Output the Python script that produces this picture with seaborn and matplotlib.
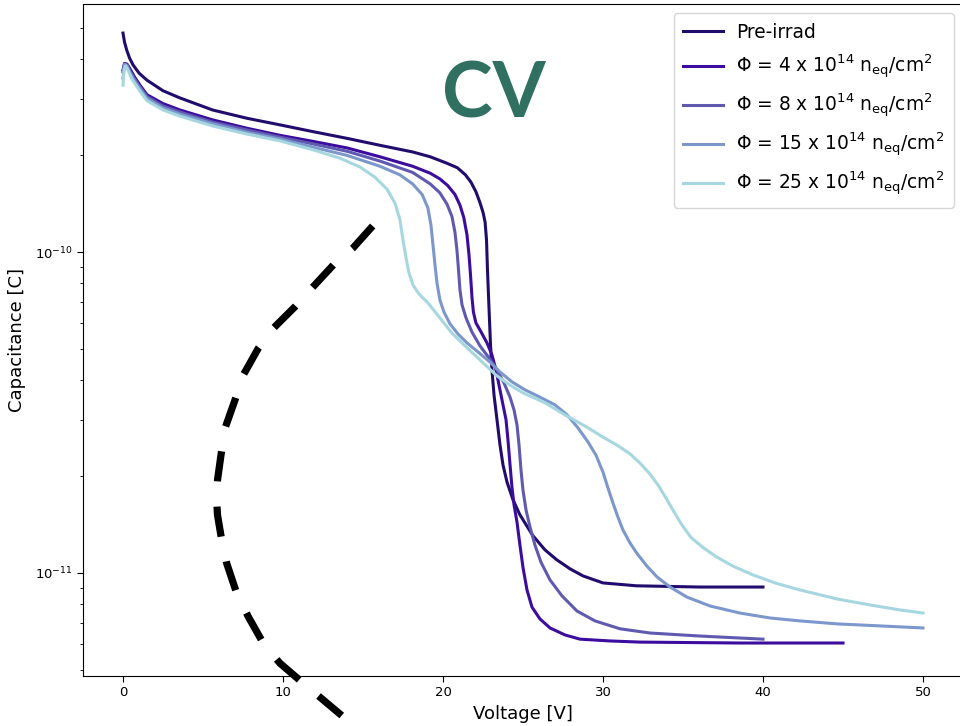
import matplotlib
matplotlib.use("Agg")
import matplotlib.pyplot as plt
import seaborn as sns
import pandas as pd
from matplotlib.lines import Line2D
from matplotlib.ticker import NullFormatter, FixedLocator

# ---------------- data ----------------
labels = ["Pre-irrad",
          r"$\Phi$ = 4 x 10$^{14}$ n$_{\mathrm{eq}}$/cm$^{2}$",
          r"$\Phi$ = 8 x 10$^{14}$ n$_{\mathrm{eq}}$/cm$^{2}$",
          r"$\Phi$ = 15 x 10$^{14}$ n$_{\mathrm{eq}}$/cm$^{2}$",
          r"$\Phi$ = 25 x 10$^{14}$ n$_{\mathrm{eq}}$/cm$^{2}$"]
colors = ["#210c6e", "#3b0c9e", "#5f5ab0", "#7c97cc", "#a6d7e0"]

x_ticks = [0, 10, 20, 30, 40, 50]
y_major = [1e-11, 1e-10]
y_minor = [5e-12, 6e-12, 7e-12, 8e-12, 9e-12, 2e-11, 3e-11, 4e-11, 5e-11, 6e-11, 7e-11,
           8e-11, 9e-11, 2e-10, 3e-10, 4e-10, 5e-10]

pre_v = [0, 0.094, 0.23, 0.41, 0.625, 1.0, 1.5, 2.5, 3.56, 5.6, 7.75, 9.8, 11.9, 14.0, 16.06,
         18.1, 19.2, 20.25, 20.9, 21.4, 21.75, 22.06, 22.3, 22.5, 22.63, 22.72, 22.78, 22.88,
         22.97, 23.06, 23.19, 23.375, 23.56, 23.75, 24.0, 24.375, 24.8, 25.6, 26.375, 27.1,
         27.94, 28.75, 30.0, 32.1, 36.06, 40.0]
pre_c = [4.81e-10, 4.51e-10, 4.26e-10, 4.02e-10, 3.83e-10, 3.61e-10, 3.43e-10, 3.18e-10,
         3.02e-10, 2.77e-10, 2.61e-10, 2.49e-10, 2.37e-10, 2.26e-10, 2.15e-10, 2.05e-10,
         1.98e-10, 1.89e-10, 1.83e-10, 1.74e-10, 1.65e-10, 1.54e-10, 1.43e-10, 1.33e-10,
         1.24e-10, 1.09e-10, 8.79e-11, 6.60e-11, 5.13e-11, 4.29e-11, 3.58e-11, 3.00e-11,
         2.51e-11, 2.17e-11, 1.92e-11, 1.69e-11, 1.52e-11, 1.31e-11, 1.18e-11, 1.10e-11,
         1.03e-11, 9.79e-12, 9.31e-12, 9.12e-12, 9.04e-12, 9.04e-12]

phi4_v = [0, 0.094, 0.25, 0.44, 0.69, 1.06, 1.5, 2.5, 3.56, 5.6, 7.75, 9.8, 11.9, 14.0, 16.06,
          18.1, 19.2, 19.8, 20.3, 20.75, 21.06, 21.3, 21.5, 21.625, 21.72, 21.81, 21.9, 22.06,
          22.375, 22.75, 23.06, 23.31, 23.56, 23.75, 23.94, 24.06, 24.19, 24.31, 24.44, 24.625,
          24.81, 25.0, 25.25, 25.56, 26.06, 26.69, 27.625, 28.56, 30.44, 32.31, 38.56, 45.0]
phi4_c = [3.69e-10, 3.87e-10, 3.85e-10, 3.72e-10, 3.53e-10, 3.31e-10, 3.09e-10, 2.90e-10,
          2.77e-10, 2.58e-10, 2.43e-10, 2.31e-10, 2.21e-10, 2.11e-10, 1.98e-10, 1.85e-10,
          1.76e-10, 1.69e-10, 1.61e-10, 1.51e-10, 1.40e-10, 1.28e-10, 1.13e-10, 9.79e-11,
          8.48e-11, 7.24e-11, 6.50e-11, 6.01e-11, 5.64e-11, 5.21e-11, 4.78e-11, 4.29e-11,
          3.72e-11, 3.34e-11, 3.00e-11, 2.60e-11, 2.17e-11, 1.85e-11, 1.63e-11, 1.44e-11,
          1.22e-11, 1.04e-11, 8.85e-12, 7.83e-12, 7.19e-12, 6.74e-12, 6.41e-12, 6.22e-12,
          6.14e-12, 6.09e-12, 6.05e-12, 6.05e-12]

phi8_v = [0, 0.094, 0.25, 0.44, 0.69, 1.06, 1.5, 2.5, 3.56, 5.6, 7.75, 9.8, 11.9, 14.0, 16.06,
          18.1, 19.2, 19.8, 20.25, 20.56, 20.75, 20.875, 20.97, 21.06, 21.19, 21.44, 21.81,
          22.31, 22.875, 23.375, 23.81, 24.19, 24.44, 24.625, 24.75, 24.875, 25.0, 25.19,
          25.44, 25.75, 26.125, 26.69, 27.44, 28.375, 29.5, 31.06, 32.94, 36.06, 40.0]
phi8_c = [3.64e-10, 3.85e-10, 3.83e-10, 3.66e-10, 3.48e-10, 3.27e-10, 3.05e-10, 2.85e-10,
          2.73e-10, 2.54e-10, 2.40e-10, 2.28e-10, 2.17e-10, 2.06e-10, 1.92e-10, 1.77e-10,
          1.63e-10, 1.53e-10, 1.41e-10, 1.29e-10, 1.15e-10, 1.01e-10, 8.79e-11, 7.62e-11,
          6.84e-11, 6.23e-11, 5.63e-11, 5.10e-11, 4.68e-11, 4.29e-11, 3.91e-11, 3.53e-11,
          3.22e-11, 2.89e-11, 2.51e-11, 2.09e-11, 1.81e-11, 1.57e-11, 1.39e-11, 1.22e-11,
          1.08e-11, 9.51e-12, 8.48e-12, 7.61e-12, 7.09e-12, 6.70e-12, 6.50e-12, 6.36e-12,
          6.22e-12]

phi15_v = [0, 0.094, 0.25, 0.44, 0.69, 1.06, 1.5, 2.5, 3.56, 5.6, 7.75, 9.8, 11.9, 14.0, 16.06,
           17.3, 18.1, 18.7, 19.06, 19.25, 19.375, 19.5, 19.625, 19.81, 20.06, 20.44, 20.94,
           21.5, 22.19, 22.94, 23.56, 24.31, 25.125, 26.06, 27.0, 27.75, 28.44, 29.06, 29.56,
           30.0, 30.31, 30.625, 30.94, 31.25, 31.69, 32.125, 32.75, 33.375, 34.19, 35.25,
           36.69, 38.56, 40.44, 42.31, 44.625, 47.3, 50.0]
phi15_c = [3.48e-10, 3.84e-10, 3.80e-10, 3.61e-10, 3.43e-10, 3.22e-10, 3.01e-10, 2.81e-10,
           2.69e-10, 2.51e-10, 2.36e-10, 2.25e-10, 2.12e-10, 2.00e-10, 1.85e-10, 1.74e-10,
           1.63e-10, 1.51e-10, 1.37e-10, 1.21e-10, 1.05e-10, 9.11e-11, 8.00e-11, 7.08e-11,
           6.50e-11, 5.97e-11, 5.55e-11, 5.21e-11, 4.88e-11, 4.54e-11, 4.23e-11, 3.94e-11,
           3.72e-11, 3.53e-11, 3.34e-11, 3.11e-11, 2.83e-11, 2.56e-11, 2.33e-11, 2.06e-11,
           1.84e-11, 1.65e-11, 1.49e-11, 1.36e-11, 1.24e-11, 1.15e-11, 1.05e-11, 9.72e-12,
           9.04e-12, 8.41e-12, 7.89e-12, 7.50e-12, 7.24e-12, 7.09e-12, 6.94e-12, 6.84e-12,
           6.74e-12]

phi25_v = [0, 0.06, 0.16, 0.31, 0.56, 1.06, 1.5, 2.5, 3.56, 5.6, 7.75, 9.8, 11.9, 13.56, 14.81,
           15.75, 16.5, 17.0, 17.31, 17.5, 17.69, 17.875, 18.125, 18.5, 19.06, 19.81, 20.56,
           21.375, 22.31, 23.375, 24.19, 25.0, 26.375, 27.75, 28.875, 30.0, 30.94, 31.69,
           32.31, 32.875, 33.44, 33.94, 34.44, 34.94, 35.5, 36.25, 37.125, 38.125, 39.375,
           40.75, 42.31, 44.625, 46.69, 48.56, 50.0]
phi25_c = [3.31e-10, 3.69e-10, 3.80e-10, 3.69e-10, 3.46e-10, 3.17e-10, 2.96e-10, 2.77e-10,
           2.65e-10, 2.47e-10, 2.33e-10, 2.22e-10, 2.08e-10, 1.96e-10, 1.84e-10, 1.71e-10,
           1.57e-10, 1.42e-10, 1.26e-10, 1.09e-10, 9.58e-11, 8.60e-11, 7.89e-11, 7.40e-11,
           6.94e-11, 6.23e-11, 5.59e-11, 5.10e-11, 4.61e-11, 4.11e-11, 3.85e-11, 3.64e-11,
           3.39e-11, 3.08e-11, 2.87e-11, 2.65e-11, 2.49e-11, 2.35e-11, 2.20e-11, 2.05e-11,
           1.88e-11, 1.71e-11, 1.55e-11, 1.41e-11, 1.29e-11, 1.20e-11, 1.12e-11, 1.05e-11,
           9.86e-12, 9.31e-12, 8.85e-12, 8.30e-12, 7.95e-12, 7.67e-12, 7.50e-12]

series = [(pre_v, pre_c), (phi4_v, phi4_c), (phi8_v, phi8_c), (phi15_v, phi15_c), (phi25_v, phi25_c)]

# ---------------- figure ----------------
plt.rcParams['font.family'] = ['DejaVu Sans']
plt.rcParams['mathtext.fontset'] = 'dejavusans'

fig = plt.figure(figsize=(9.6, 7.26), dpi=100)
ax = fig.add_axes([83 / 960, 50 / 726, 880 / 960, 672 / 726])

for (v, c), lab, col in zip(series, labels, colors):
    df = pd.DataFrame({"Voltage": v, "Capacitance": c})
    sns.lineplot(data=df, x="Voltage", y="Capacitance", ax=ax, color=col, lw=2.2,
                 label=lab, sort=False, estimator=None)

ax.set_yscale("log")
ax.set_xlim(-2.5, 52.5)
ax.set_ylim(4.775e-12, 5.925e-10)
ax.set_xticks(x_ticks)
ax.yaxis.set_major_locator(FixedLocator(y_major))
ax.yaxis.set_minor_locator(FixedLocator(y_minor))
ax.yaxis.set_minor_formatter(NullFormatter())
ax.tick_params(axis="both", which="major", labelsize=9.5, length=4)
ax.tick_params(axis="y", which="minor", length=2.5)
ax.set_xlabel("Voltage [V]", fontsize=13, labelpad=4)
ax.set_ylabel("Capacitance [C]", fontsize=13, labelpad=6)

ax.legend(loc="upper right", fontsize=13.4, handlelength=2.15, labelspacing=0.6,
          handletextpad=0.7, borderpad=0.5, framealpha=0.8)

# big "CV" title
fig.text(494 / 960, 1 - 95 / 726, "CV", fontsize=55, fontweight="bold", color="#2f7060",
         family="Lato", ha="center", va="center")

# dashed arc annotation (figure pixel coordinates of the drawn stroke)
arc_px = [(372.7, 226), (352.7, 248.3), (333.3, 265), (311.7, 288.3), (295, 306.7),
          (273.3, 328.3), (258.3, 348.3), (243.3, 375), (235, 400), (225, 428.3),
          (221, 455), (217.5, 480), (216.5, 497), (217.5, 515), (221.7, 540),
          (226.7, 563.3), (236.7, 593.3), (248.3, 616.7), (263.3, 643.3), (280, 663.3),
          (303.3, 683.3), (323.3, 700), (350, 722.5)]
ax_x = [p[0] / 960 for p in arc_px]
ax_y = [1 - p[1] / 726 for p in arc_px]
fig.add_artist(Line2D(ax_x, ax_y, transform=fig.transFigure, color="black", lw=5.2,
                      linestyle=(0, (4.2, 3.5)), dash_capstyle="butt", zorder=10))

fig.savefig("out.png", dpi=100)
